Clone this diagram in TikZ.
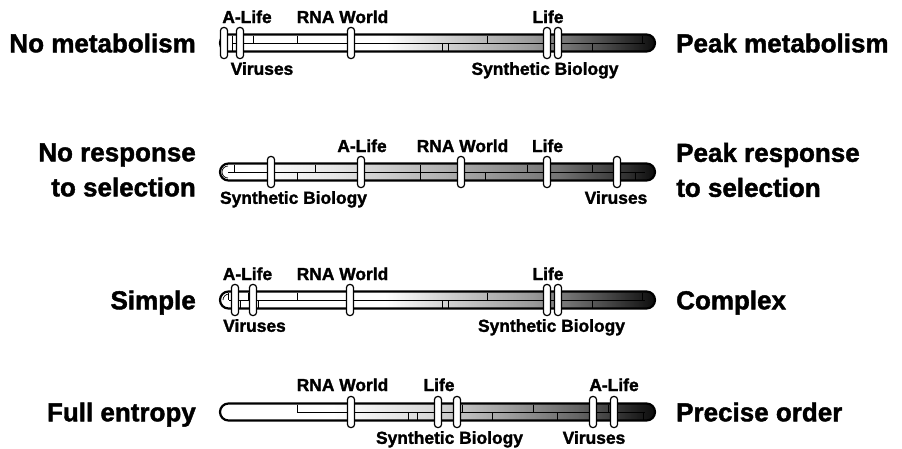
\documentclass[tikz,border=0pt]{standalone}
\usepackage{fontspec}
\setmainfont{Liberation Sans}[BoldFeatures={FakeBold=1.6}]
\usetikzlibrary{positioning}
% shadings: 25bp..75bp is the tube from left to right
\pgfdeclarehorizontalshading{tubeA}{100bp}{color(0bp)=(white); color(25bp)=(white); color(44bp)=(white); color(51bp)=(black!18); color(61bp)=(black!40); color(69bp)=(black!70); color(75bp)=(black!95); color(100bp)=(black!95)}
\pgfdeclarehorizontalshading{tubeB}{100bp}{color(0bp)=(white); color(25bp)=(white); color(29bp)=(white); color(38bp)=(black!10); color(50bp)=(black!30); color(64bp)=(black!55); color(72bp)=(black!82); color(75bp)=(black!95); color(100bp)=(black!95)}
\pgfdeclarehorizontalshading{tubeD}{100bp}{color(0bp)=(white); color(25bp)=(white); color(38bp)=(white); color(49bp)=(black!15); color(57bp)=(black!35); color(66bp)=(black!60); color(73bp)=(black!88); color(75bp)=(black!95); color(100bp)=(black!95)}

\begin{document}
\begin{tikzpicture}[x=1pt, y=-1pt,
  tube/.style={line width=2.2pt, rounded corners=8.5pt},
  tab/.style={draw, fill=white, line width=1.2pt, rounded corners=3pt, minimum width=7pt, minimum height=31pt, inner sep=0pt},
  sm/.style={font=\bfseries\fontsize{17.4}{20}\selectfont, inner sep=0pt},
  big/.style={font=\bfseries\fontsize{26}{35}\selectfont, inner sep=0pt},
  ln/.style={line width=0.7pt}]
\useasboundingbox (0,0) rectangle (902,448);

% row 1: metabolism
\node[big, anchor=base east] (nm) at (196,52.3) {No metabolism};
\node[big, anchor=base west] (pm) at (676,52.3) {Peak metabolism};
\shadedraw[shading=tubeA, tube] (220,34.5) rectangle (655,51.5);
\draw[ln] (232,43) -- (645,43);
\foreach \x in {232,253,297,487,642} \draw[ln] (\x,35.5) -- (\x,43);
\foreach \x in {232,442,448,592} \draw[ln] (\x,43) -- (\x,50.5);
\node[tab] (al1) at (224,43) {}; \node[tab] (vi1) at (240,43) {};
\node[tab] (rw1) at (351,43) {}; \node[tab] (li1) at (547,43) {}; \node[tab] (sb1) at (558,43) {};
\node[sm, anchor=base] (al1t) at (247,23) {A-Life};
\node[sm, anchor=base] (rw1t) at (342.5,23) {RNA World};
\node[sm, anchor=base] (li1t) at (548,23) {Life};
\node[sm, anchor=north] (vi1t) at (262,62) {Viruses};
\node[sm, anchor=north] (sb1t) at (545,62) {Synthetic Biology};

% row 2: response to selection
\node[big, anchor=east, align=right] (nr) at (196,170) {No response\\to selection};
\node[big, anchor=west, align=left] (pr) at (676,170) {Peak response\\to selection};
\shadedraw[shading=tubeB, tube] (220,163.5) rectangle (655,180.5);
\draw[ln] (228,172) -- (645,172);
\draw[ln] (228,166) arc (270:90:6);
\foreach \x in {234,315,420,527,592} \draw[ln] (\x,164.5) -- (\x,172);
\foreach \x in {297,420,485,635} \draw[ln] (\x,172) -- (\x,179.5);
\node[tab] (sb2) at (271,172) {}; \node[tab] (al2) at (361,172) {};
\node[tab] (rw2) at (461,172) {}; \node[tab] (li2) at (547,172) {}; \node[tab] (vi2) at (617,172) {};
\node[sm, anchor=base] (al2t) at (362,152) {A-Life};
\node[sm, anchor=base] (rw2t) at (462.5,152) {RNA World};
\node[sm, anchor=base] (li2t) at (547.5,152) {Life};
\node[sm, anchor=north] (sb2t) at (293.5,191) {Synthetic Biology};
\node[sm, anchor=north] (vi2t) at (616,191) {Viruses};

% row 3: complexity
\node[big, anchor=base east] (si) at (196,309.3) {Simple};
\node[big, anchor=base west] (co) at (676,309.3) {Complex};
\shadedraw[shading=tubeA, tube] (220,291.5) rectangle (655,308.5);
\draw[ln] (229,300) -- (645,300);
\draw[ln] (229,294) arc (270:180:6);
\foreach \x in {228,248,297,487,642} \draw[ln] (\x,292.5) -- (\x,300);
\foreach \x in {240,258,442,448,592} \draw[ln] (\x,300) -- (\x,307.5);
\node[tab] (al3) at (235,300) {}; \node[tab] (vi3) at (253,300) {};
\node[tab] (rw3) at (350,300) {}; \node[tab] (li3) at (547,300) {}; \node[tab] (sb3) at (558,300) {};
\node[sm, anchor=base] (al3t) at (247.5,280) {A-Life};
\node[sm, anchor=base] (rw3t) at (342.5,280) {RNA World};
\node[sm, anchor=base] (li3t) at (548,280) {Life};
\node[sm, anchor=north] (vi3t) at (254.5,319) {Viruses};
\node[sm, anchor=north] (sb3t) at (551.5,319) {Synthetic Biology};

% row 4: order
\node[big, anchor=base east] (fe) at (196,421.3) {Full entropy};
\node[big, anchor=base west] (po) at (676,421.3) {Precise order};
\shadedraw[shading=tubeD, tube] (220,403.5) rectangle (655,420.5);
\draw[ln] (297,412) -- (645,412);
\foreach \x in {297,462,533,608} \draw[ln] (\x,404.5) -- (\x,412);
\foreach \x in {408,417,492,557,643} \draw[ln] (\x,412) -- (\x,419.5);
\node[tab] (rw4) at (351,412) {}; \node[tab] (li4) at (438,412) {};
\node[tab] (sb4) at (457,412) {}; \node[tab] (vi4) at (593,412) {}; \node[tab] (al4) at (614,412) {};
\node[sm, anchor=base] (rw4t) at (342.5,391) {RNA World};
\node[sm, anchor=base] (li4t) at (439,391) {Life};
\node[sm, anchor=base] (al4t) at (614,391) {A-Life};
\node[sm, anchor=north] (sb4t) at (449.5,431) {Synthetic Biology};
\node[sm, anchor=north] (vi4t) at (594,431) {Viruses};
\end{tikzpicture}
\end{document}
